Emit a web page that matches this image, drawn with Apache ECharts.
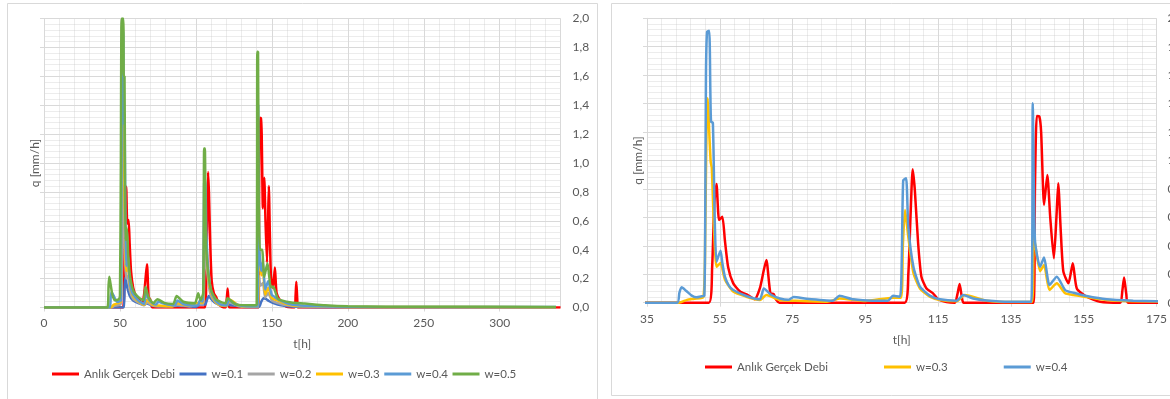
<!DOCTYPE html>
<html>
<head>
<meta charset="utf-8">
<script src="https://cdn.jsdelivr.net/npm/echarts@6/dist/echarts.min.js"></script>
<style>
  html, body { margin: 0; padding: 0; background: #ffffff; }
  #chart { width: 1170px; height: 399px; }
</style>
</head>
<body>
<div id="chart"></div>
<script>
// Series names and colours
const seriesNames = ['Anlık Gerçek Debi', 'w=0.1', 'w=0.2', 'w=0.3', 'w=0.4', 'w=0.5'];
const seriesColors = ['#FF0000', '#4472C4', '#A5A5A5', '#FFC000', '#5B9BD5', '#70AD47'];

// Discharge q [mm/h] against time t [h], as [t, q] pairs
const gercekDebi = [
  [0, 0], [52, 0], [52.9, 0.25], [53.5, 0.7], [54.1, 0.835], [54.8, 0.582], [55.7, 0.605],
  [56.4, 0.44], [57.3, 0.25], [58.7, 0.136], [60.5, 0.08], [62.8, 0.052], [64.6, 0.024],
  [66, 0.1], [67.1, 0.23], [67.8, 0.30], [68.9, 0.066], [69.8, 0.06], [70.5, 0.02], [71.4, 0],
  [105.8, 0], [106.8, 0.2], [107.4, 0.6], [108, 0.938], [108.6, 0.79], [109.5, 0.418],
  [110.4, 0.183], [111.8, 0.1], [113.6, 0.066], [115, 0.024], [117.3, 0.005], [119.6, 0],
  [120.3, 0.06], [120.9, 0.131], [121.5, 0.04], [122, 0], [141.2, 0], [141.6, 0.8],
  [142.1, 1.313], [142.8, 1.31], [143.3, 1.2], [144.1, 0.687], [145, 0.898], [145.8, 0.6],
  [146.8, 0.312], [147.5, 0.6], [148, 0.84], [148.7, 0.5], [149.4, 0.22], [150.8, 0.136],
  [152, 0.277], [153.1, 0.1], [155.8, 0.042], [159.5, 0.007], [165, 0], [165.6, 0.08],
  [166.1, 0.178], [166.7, 0.06], [167.2, 0], [340, 0]
];

const w01 = [
  [0, 0], [52.5, 0], [53, 0.12], [53.5, 0.21], [54.2, 0.17], [55, 0.13], [56.5, 0.08],
  [58.5, 0.05], [62, 0.03], [66, 0.02], [67, 0.03], [72, 0.012], [80, 0.008], [88, 0.012],
  [100, 0.006], [102.5, 0.02], [106, 0.02], [107.2, 0.05], [108.5, 0.08], [110, 0.06],
  [113, 0.03], [118, 0.015], [122, 0.018], [130, 0.006], [141.5, 0.004], [143, 0.04],
  [144.5, 0.064], [146, 0.06], [148, 0.045], [151, 0.03], [156, 0.015], [165, 0.006],
  [200, 0.002], [337, 0.001]
];

const w02 = [
  [0, 0], [44.5, 0], [46, 0.01], [50.5, 0.025], [51.2, 0.5], [51.8, 0.85], [52.3, 0.7],
  [52.8, 0.6], [53.5, 0.3], [54.2, 0.2], [55.2, 0.22], [56.5, 0.12], [58.7, 0.06],
  [62.3, 0.035], [66, 0.015], [67.8, 0.035], [72, 0.012], [80, 0.008], [88, 0.018],
  [96, 0.008], [102.6, 0.025], [104.8, 0.025], [105.5, 0.25], [106.3, 0.4], [107, 0.3],
  [108.5, 0.15], [110, 0.08], [113, 0.035], [116, 0.015], [122.3, 0.035], [128, 0.01],
  [140.8, 0.004], [141.4, 0.22], [142.5, 0.15], [144.1, 0.17], [145.6, 0.07], [147.6, 0.1],
  [150, 0.05], [154, 0.03], [160, 0.015], [170, 0.008], [200, 0.003], [337, 0.002]
];

const w03 = [
  [0, 0], [43.8, 0], [46, 0.02], [48, 0.028], [50.5, 0.04], [51, 0.5], [51.4, 1.3],
  [51.7, 1.437], [52.1, 1.2], [52.5, 0.99], [52.8, 0.95], [53.3, 0.6], [54.1, 0.253],
  [55.2, 0.28], [56.4, 0.164], [58.7, 0.078], [62.3, 0.042], [66, 0.019], [67.8, 0.054],
  [71.5, 0.019], [75.3, 0.014], [84.5, 0.007], [87.9, 0.03], [95, 0.012], [102.6, 0.035],
  [104.8, 0.035], [105.3, 0.4], [105.9, 0.652], [106.8, 0.464], [108.2, 0.21], [110, 0.1],
  [112.7, 0.042], [115.5, 0.019], [120.1, 0.01], [122.3, 0.054], [128.3, 0.014],
  [134.7, 0.005], [140.8, 0.005], [141.3, 0.464], [143, 0.222], [144.1, 0.265],
  [145.6, 0.089], [147.6, 0.136], [149.9, 0.066], [152.2, 0.054], [155.8, 0.04],
  [161.3, 0.019], [168.6, 0.01], [200, 0.004], [337, 0.002]
];

const w04 = [
  [0, 0], [43.3, 0], [43.9, 0.07], [44.5, 0.108], [45.9, 0.08], [47.3, 0.05], [48.6, 0.038],
  [50, 0.045], [50.75, 0.05], [51.0, 0.6], [51.2, 1.6], [51.5, 1.905], [52.1, 1.913],
  [52.4, 1.5], [52.6, 1.273], [53.1, 1.265], [53.6, 0.6], [54.1, 0.288], [55.2, 0.366],
  [55.7, 0.28], [56.4, 0.183], [57.5, 0.12], [58.7, 0.089], [62.3, 0.047], [66, 0.024],
  [67.1, 0.099], [69.2, 0.054], [71.5, 0.03], [73.8, 0.02], [75.3, 0.04], [78.8, 0.028],
  [86.1, 0.014], [87.9, 0.049], [91.6, 0.024], [97.1, 0.014], [101.2, 0.014], [102.6, 0.049],
  [104.5, 0.042], [105, 0.3], [105.4, 0.86], [106.2, 0.875], [106.8, 0.535], [108.2, 0.253],
  [110, 0.113], [112.7, 0.05], [115.5, 0.024], [120.1, 0.014], [121.9, 0.054], [124.6, 0.03],
  [128.3, 0.016], [134.7, 0.007], [140.6, 0.007], [141, 1.402], [141.6, 0.44], [143, 0.253],
  [144.1, 0.317], [145.6, 0.124], [147.6, 0.183], [149.9, 0.089], [152.2, 0.07],
  [155.8, 0.047], [161.3, 0.024], [168.6, 0.014], [175, 0.01], [200, 0.005], [337, 0.003]
];

const w05 = [
  [0, 0], [41.7, 0], [42.5, 0.15], [43, 0.213], [44, 0.15], [45, 0.09], [46.5, 0.05],
  [49, 0.055], [50, 0.08], [50.6, 1.0], [51.1, 2.0], [52.2, 2.0], [52.5, 1.6], [53, 1.6],
  [53.3, 0.9], [53.7, 0.467], [54.6, 0.548], [55.5, 0.35], [56.7, 0.21], [59, 0.11],
  [62.3, 0.07], [65.5, 0.05], [66.8, 0.144], [68.8, 0.07], [72, 0.03], [74.6, 0.057],
  [79.6, 0.03], [85.1, 0.025], [87.3, 0.08], [91.7, 0.04], [99.3, 0.03], [101.5, 0.098],
  [103, 0.05], [104.8, 0.1], [105.4, 1.10], [105.9, 1.10], [106.5, 0.5], [107.5, 0.3],
  [110, 0.12], [113, 0.06], [117, 0.035], [119.5, 0.03], [120.8, 0.064], [126.5, 0.02],
  [137.5, 0.015], [140, 0.02], [140.4, 1.77], [140.9, 1.77], [141.3, 0.8], [142.1, 0.4],
  [143.6, 0.4], [144.9, 0.21], [147.1, 0.306], [149.3, 0.14], [150.8, 0.145], [154.1, 0.06],
  [162.8, 0.035], [171.6, 0.028], [185, 0.015], [200, 0.008], [250, 0.005], [337, 0.004]
];

const seriesData = [gercekDebi, w01, w02, w03, w04, w05];
const rightPanelSeries = [0, 3, 4];   // indices shown in the zoomed panel

const FONT = 'Lato';
const LABEL_COLOR = '#595959';
const MAJOR = '#d9d9d9';
const MINOR = 'rgba(200,200,200,0.35)';

const commaFmt = v => v.toFixed(1).replace('.', ',');

function qAxisLeft(grid) {
  return {
    type: 'value', gridIndex: grid, position: 'left', min: 0, max: 2, interval: 0.2,
    name: 'q [mm/h]', nameLocation: 'middle', nameGap: 3,
    nameTextStyle: { color: LABEL_COLOR, fontSize: 12, fontFamily: FONT },
    axisLine: { show: true, lineStyle: { color: MAJOR } },
    axisTick: { show: true, length: 4, lineStyle: { color: MAJOR } },
    axisLabel: { show: false },
    splitLine: { show: true, lineStyle: { color: MAJOR } },
    minorTick: { show: false, splitNumber: 5 },
    minorSplitLine: { show: true, lineStyle: { color: MINOR } }
  };
}
function qAxisRight(grid, margin) {
  return {
    type: 'value', gridIndex: grid, position: 'right', min: 0, max: 2, interval: 0.2,
    axisLine: { show: false }, axisTick: { show: false },
    axisLabel: { color: LABEL_COLOR, fontSize: 12, fontFamily: FONT, margin: margin, formatter: commaFmt },
    splitLine: { show: false }
  };
}

const series = [];
seriesData.forEach((d, i) => {
  series.push({
    name: seriesNames[i], type: 'line', xAxisIndex: 0, yAxisIndex: 0,
    data: d, symbol: 'none', smooth: 0.2, clip: true,
    lineStyle: { color: seriesColors[i], width: 2.5 }, itemStyle: { color: seriesColors[i] }
  });
});
rightPanelSeries.forEach(i => {
  series.push({
    name: seriesNames[i], type: 'line', xAxisIndex: 1, yAxisIndex: 2,
    data: seriesData[i], symbol: 'none', smooth: 0.2, clip: true,
    lineStyle: { color: seriesColors[i], width: 2.5 }, itemStyle: { color: seriesColors[i] }
  });
});

const legendText = { color: LABEL_COLOR, fontSize: 11.5, fontFamily: FONT };

const chart = echarts.init(document.getElementById('chart'), null, { renderer: 'canvas' });
chart.setOption({
  backgroundColor: '#ffffff',
  animation: false,
  textStyle: { fontFamily: FONT },
  graphic: [
    { type: 'rect', z: -10, shape: { x: 7.5, y: 3.5, width: 590, height: 400 },
      style: { fill: '#ffffff', stroke: '#d9d9d9', lineWidth: 1 } },
    { type: 'rect', z: -10, shape: { x: 611.5, y: 3.5, width: 580, height: 392 },
      style: { fill: '#ffffff', stroke: '#d9d9d9', lineWidth: 1 } }
  ],
  grid: [
    { left: 44, top: 18.5, width: 516.5, height: 289, outerBoundsMode: 'none', containLabel: false },
    { left: 647, top: 18.3, width: 509.5, height: 284.4, outerBoundsMode: 'none', containLabel: false }
  ],
  xAxis: [
    {
      type: 'value', gridIndex: 0, min: 0, max: 340, interval: 50,
      name: 't[h]', nameLocation: 'middle', nameGap: 31,
      nameTextStyle: { color: LABEL_COLOR, fontSize: 12, fontFamily: FONT },
      axisLine: { lineStyle: { color: MAJOR } },
      axisTick: { show: true, length: 4, lineStyle: { color: MAJOR } },
      axisLabel: { color: LABEL_COLOR, fontSize: 12, fontFamily: FONT, margin: 10, showMaxLabel: false },
      splitLine: { show: true, lineStyle: { color: MAJOR } }
    },
    {
      type: 'value', gridIndex: 1, min: 35, max: 175, interval: 20,
      name: 't[h]', nameLocation: 'middle', nameGap: 31,
      nameTextStyle: { color: LABEL_COLOR, fontSize: 12, fontFamily: FONT },
      axisLine: { lineStyle: { color: MAJOR } },
      axisTick: { show: true, length: 4, lineStyle: { color: MAJOR } },
      axisLabel: { color: LABEL_COLOR, fontSize: 12, fontFamily: FONT, margin: 10 },
      splitLine: { show: true, lineStyle: { color: MAJOR } },
      minorTick: { show: false, splitNumber: 5 },
      minorSplitLine: { show: true, lineStyle: { color: MINOR } }
    },
    {
      // minor grid for the full-period panel, every 10 h
      type: 'value', gridIndex: 0, min: 0, max: 340, interval: 10, z: -1,
      axisLine: { show: false }, axisTick: { show: false }, axisLabel: { show: false },
      splitLine: { show: true, lineStyle: { color: MINOR } }
    }
  ],
  yAxis: [qAxisLeft(0), qAxisRight(0, 12), qAxisLeft(1), qAxisRight(1, 11)],
  legend: [
    {
      data: seriesNames, left: 52, top: 368, padding: 0, itemGap: 4.5, itemWidth: 27, itemHeight: 3,
      icon: 'rect', textStyle: legendText, selectedMode: false
    },
    {
      data: rightPanelSeries.map(i => seriesNames[i]), left: 705, top: 361, padding: 0, itemGap: 56,
      itemWidth: 27, itemHeight: 3, icon: 'rect', textStyle: legendText, selectedMode: false
    }
  ],
  series: series
});
</script>
</body>
</html>
